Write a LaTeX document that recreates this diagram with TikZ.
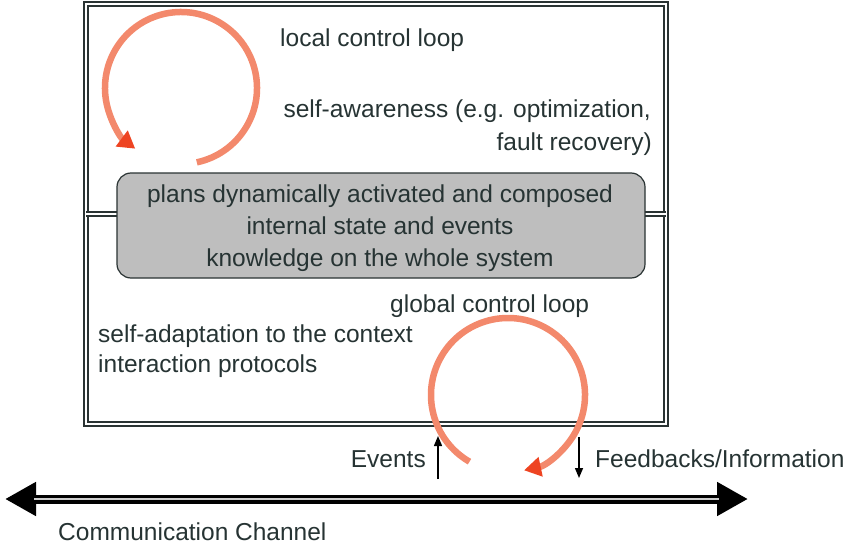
\documentclass[tikz,border=0pt]{standalone}
\usepackage{fontspec}
\setmainfont{Liberation Sans}
\usetikzlibrary{arrows.meta}
\definecolor{loopc}{HTML}{F3896C}
\definecolor{tipc}{HTML}{EE4422}
\definecolor{txt}{HTML}{263333}
\definecolor{boxline}{HTML}{2A3333}
\definecolor{grayfill}{HTML}{BEBEBE}
\begin{document}
\begin{tikzpicture}[x=1pt,y=-1pt,
  lbl/.style={inner sep=0pt, text=txt, font=\fontsize{24.5}{32}\selectfont},
  frame/.style={draw=boxline, line width=1.9pt, double=white, double distance=2pt},
  loopline/.style={draw=loopc, line width=6.5pt, -{Triangle[length=17pt,width=19pt,fill=tipc,color=tipc]}},
  graybox/.style={draw=boxline, fill=grayfill, rounded corners=14pt, line width=1.2pt, minimum width=528pt, minimum height=105pt},
  thinarrow/.style={draw=black, line width=1.4pt, -{Triangle[length=10pt,width=8pt]}}
]
\useasboundingbox (0,0) rectangle (850,548);
% frame and divider
\draw[frame] (86,4) rectangle (666,424);
\draw[frame] (86,214) -- (666,214);
% central box
\node[graybox] (core) at (381,225.5) {};
\node[lbl, align=center] (coretext) at (380,228.5) {plans dynamically activated and composed\\internal state and events\\knowledge on the whole system};
% labels
\node[lbl, anchor=base west] (local) at (280,47) {local control loop};
\node[lbl, anchor=base east] (aware1) at (651,118) {self-awareness (e.g. optimization,};
\node[lbl, anchor=base east] (aware2) at (652,151) {fault recovery)};
\node[lbl, anchor=base west] (global) at (390,312) {global control loop};
\node[lbl, anchor=base west] (adapt) at (98,342) {self-adaptation to the context};
\node[lbl, anchor=base west] (proto) at (98,372) {interaction protocols};
\node[lbl, anchor=base east] (events) at (426,467) {Events};
\node[lbl, anchor=base west] (feed) at (595,467) {Feedbacks/Information};
\node[lbl, anchor=base west] (comm) at (58,540) {Communication Channel};
% loops
\coordinate (c1) at (181,88);
\coordinate (c2) at (508,395);
\draw[loopline] (c1) ++(78:76) arc[start angle=78, end angle=-233, radius=76];
\draw[loopline] (c2) ++(120:77) arc[start angle=120, end angle=438, radius=77];
% events / feedback arrows
\coordinate (evS) at (438,479);
\coordinate (evE) at (438,436);
\coordinate (fbS) at (579,437);
\coordinate (fbE) at (579,478);
\draw[thinarrow] (evS) -- (evE);
\draw[thinarrow] (fbS) -- (fbE);
% communication channel
\coordinate (chL) at (5,499);
\coordinate (chR) at (748,499);
\coordinate (chLi) at (34,499);
\coordinate (chRi) at (719,499);
\draw[line width=9pt, {Triangle[length=31pt,width=32pt]}-{Triangle[length=31pt,width=32pt]}] (chL) -- (chR);
\draw[line width=2pt, color=gray!40] (chLi) -- (chRi);
\end{tikzpicture}
\end{document}
